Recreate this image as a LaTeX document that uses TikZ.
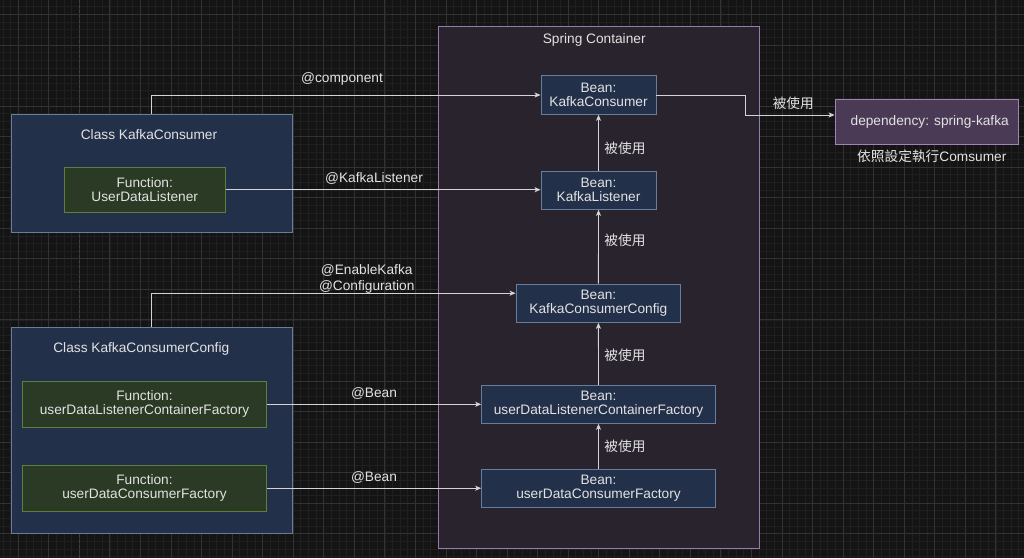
\documentclass[tikz,border=0pt]{standalone}
\usepackage{fontspec}
\setmainfont{Liberation Sans}
\newfontfamily\cjk{Noto Sans CJK TC}
\usepackage{xcolor}
\usetikzlibrary{arrows.meta, positioning, calc}

\definecolor{bgdark}{RGB}{20,20,20}
\definecolor{gridminor}{RGB}{31,31,31}
\definecolor{gridmajor}{RGB}{50,50,50}
\definecolor{griddash}{RGB}{64,64,64}
\definecolor{txtlight}{RGB}{226,226,226}
\definecolor{linelight}{RGB}{212,212,212}
\definecolor{clsfill}{RGB}{35,48,74}
\definecolor{clsline}{RGB}{104,124,158}
\definecolor{fnfill}{RGB}{42,58,36}
\definecolor{fnline}{RGB}{92,126,62}
\definecolor{springfill}{RGB}{40,35,44}
\definecolor{springline}{RGB}{150,124,170}
\definecolor{depfill}{RGB}{74,58,86}
\definecolor{depline}{RGB}{160,132,180}

\tikzset{
  box/.style={draw, line width=0.9pt, align=center, text=txtlight, inner sep=0pt,
    font=\fontsize{13.7}{14}\selectfont},
  classbox/.style={box, fill=clsfill, draw=clsline},
  fnbox/.style={box, fill=fnfill, draw=fnline},
  beanbox/.style={box, fill=clsfill, draw=clsline},
  springbox/.style={box, fill=springfill, draw=springline},
  depbox/.style={box, fill=depfill, draw=depline},
  lbl/.style={text=txtlight, inner sep=0pt, font=\fontsize{13.7}{16}\selectfont, align=center},
  cjklbl/.style={text=txtlight, inner sep=0pt, font=\fontsize{13.7}{14}\selectfont},
  flow/.style={draw=linelight, line width=0.9pt, -{Stealth[length=6pt,width=5pt,inset=1.5pt]}}
}

\begin{document}
\begin{tikzpicture}[x=1pt, y=-1pt]
  \useasboundingbox (0,0) rectangle (1024,558);

  % Background grid
  \fill[bgdark] (0,0) rectangle (1024,558);
  \begin{scope}
    \clip (0,0) rectangle (1024,558);
    \foreach \i in {0,...,135} \draw[gridminor, line width=0.8pt] ({\i*7.6375-4.61},0) -- ++(0,558);
    \foreach \i in {0,...,74} \draw[gridminor, line width=0.8pt] (0,{\i*7.6375-0.83}) -- ++(1024,0);
    \foreach \i in {0,...,34} \draw[gridmajor, line width=1pt] ({\i*30.55-12.25},0) -- ++(0,558);
    \foreach \i in {0,...,19} \draw[gridmajor, line width=1pt] (0,{\i*30.55-16.1}) -- ++(1024,0);
    \draw[griddash, line width=1pt, dash pattern=on 3pt off 2pt] (79.3,0) -- (79.3,558);
  \end{scope}

  % Classes
  \node[classbox, minimum width=281, minimum height=118] (clsA) at (151.5,173) {};
  \node[lbl] (clsAtitle) at (149,135) {Class KafkaConsumer};
  \node[fnbox, minimum width=160.7, minimum height=44.7] (fnUDL) at (144.7,189.7) {Function:\\UserDataListener};

  \node[classbox, minimum width=281, minimum height=206] (clsB) at (151.5,430.3) {};
  \node[lbl] (clsBtitle) at (141.3,349.3) {Class KafkaConsumerConfig};
  \node[fnbox, minimum width=244.4, minimum height=46] (fnULCF) at (144.5,404.3) {Function:\\userDataListenerContainerFactory};
  \node[fnbox, minimum width=244.4, minimum height=45.7] (fnUCF) at (144.5,488.2) {Function:\\userDataConsumerFactory};

  % Spring container
  \node[springbox, minimum width=320.7, minimum height=522.7] (spring) at (598.7,287.3) {};
  \node[lbl] (springtitle) at (594.2,40) {Spring Container};

  \node[beanbox, minimum width=115, minimum height=38.6] (beanKC) at (598.5,95) {Bean:\\KafkaConsumer};
  \node[beanbox, minimum width=115, minimum height=38.3] (beanKL) at (598.5,190.2) {Bean:\\KafkaListener};
  \node[beanbox, minimum width=164.7, minimum height=38.3] (beanCfg) at (598.4,303.2) {Bean:\\KafkaConsumerConfig};
  \node[beanbox, minimum width=233.6, minimum height=38] (beanULCF) at (598.5,404.3) {Bean:\\userDataListenerContainerFactory};
  \node[beanbox, minimum width=233.6, minimum height=38.3] (beanUCF) at (598.5,488.2) {Bean:\\userDataConsumerFactory};

  % Dependency
  \node[depbox, minimum width=183.3, minimum height=45] (dep) at (926.7,121.5) {\hspace*{6pt}dependency: spring-kafka};
  \node[cjklbl] (depnote) at (931.8,156.7) {{\cjk 依照設定執行}Comsumer};

  % Annotations
  \draw[flow] (clsA.north) |- (beanKC.west);
  \node[lbl] (lblComp) at (342,79) {@component};
  \draw[flow] (fnUDL.east) -- (fnUDL.east -| beanKL.west);
  \node[lbl] (lblKL) at (374,178) {@KafkaListener};
  \draw[flow] (clsB.north) |- ([yshift=10pt]beanCfg.west);
  \node[lbl] (lblCfg) at (366.7,278.7) {@EnableKafka\\@Configuration};
  \draw[flow] (fnULCF.east) -- (fnULCF.east -| beanULCF.west);
  \node[lbl] (lblBeanA) at (374,393) {@Bean};
  \draw[flow] (fnUCF.east) -- (fnUCF.east -| beanUCF.west);
  \node[lbl] (lblBeanB) at (374,477) {@Bean};

  % Used-by chain
  \draw[flow] (beanKL.north) -- (beanKC.south);
  \node[cjklbl] (use1) at (625,148.3) {\cjk 被使用};
  \draw[flow] (beanCfg.north) -- (beanKL.south);
  \node[cjklbl] (use2) at (625,240) {\cjk 被使用};
  \draw[flow] (beanULCF.north) -- (beanCfg.south);
  \node[cjklbl] (use3) at (625,355) {\cjk 被使用};
  \draw[flow] (beanUCF.north) -- (beanULCF.south);
  \node[cjklbl] (use4) at (625,446) {\cjk 被使用};

  \draw[flow] (beanKC.east) -- ++(89,0) |- ([yshift=6.5pt]dep.west);
  \node[cjklbl] (use5) at (793.3,103.3) {\cjk 被使用};
\end{tikzpicture}
\end{document}
